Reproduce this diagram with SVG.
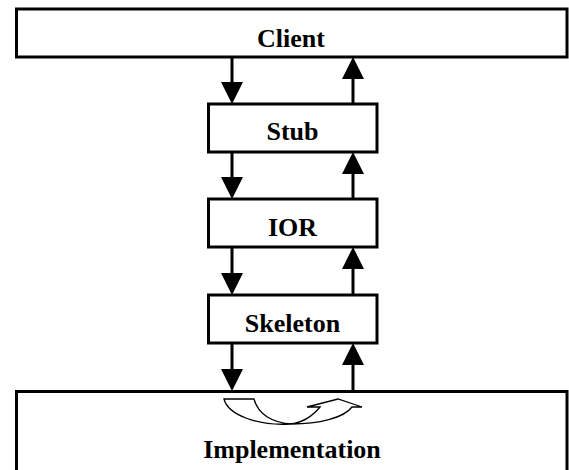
<svg xmlns="http://www.w3.org/2000/svg" width="569" height="470" viewBox="0 0 569 470">
<style>
.box{fill:#fff;stroke:#000;stroke-width:3}
.lbl{font-family:"Liberation Serif","Times New Roman",serif;font-weight:bold;font-size:26px;text-anchor:middle;fill:#000}
.conn{stroke:#000;stroke-width:3;fill:none}
.curve{fill:#fff;stroke:#000;stroke-width:1.3;stroke-linejoin:miter}
</style>
<defs>
<marker id="ah" viewBox="0 0 22 22" refX="12" refY="11" markerWidth="22" markerHeight="22" markerUnits="userSpaceOnUse" orient="auto">
<path d="M0,0 L22,11 L0,22 Z" fill="#000"/>
</marker>
</defs>
<rect width="569" height="470" fill="#fff"/>
<g id="implementation">
<rect class="box" x="16.5" y="391.5" width="550.5" height="90"/>
<path class="curve" d="M224,399 L254,399 C258,414 272,423 292,424 C318,424 344,418 352,407 L362,407 L338,399 L307,407 L320,407 C311,418 300,423 290,424 C258,426 228,415 224,399 Z"/>
<text class="lbl" x="292" y="458">Implementation</text>
</g>
<g id="client">
<rect class="box" x="16.5" y="9" width="550.5" height="48"/>
<text class="lbl" x="291" y="47">Client</text>
</g>
<g id="stub">
<rect class="box" x="208.5" y="104" width="168.5" height="48"/>
<text class="lbl" x="292.5" y="140">Stub</text>
</g>
<g id="ior">
<rect class="box" x="208.5" y="199" width="168.5" height="48"/>
<text class="lbl" x="292.5" y="236">IOR</text>
</g>
<g id="skeleton">
<rect class="box" x="208.5" y="295" width="168.5" height="48"/>
<text class="lbl" x="292.5" y="332">Skeleton</text>
</g>
<g id="connectors">
<line class="conn" x1="232" y1="57" x2="232" y2="94" marker-end="url(#ah)"/>
<line class="conn" x1="232" y1="152" x2="232" y2="189" marker-end="url(#ah)"/>
<line class="conn" x1="232" y1="247" x2="232" y2="285" marker-end="url(#ah)"/>
<line class="conn" x1="232" y1="343" x2="232" y2="381" marker-end="url(#ah)"/>
<line class="conn" x1="353" y1="104" x2="353" y2="67" marker-end="url(#ah)"/>
<line class="conn" x1="353" y1="199" x2="353" y2="162" marker-end="url(#ah)"/>
<line class="conn" x1="353" y1="295" x2="353" y2="257" marker-end="url(#ah)"/>
<line class="conn" x1="353" y1="390" x2="353" y2="353" marker-end="url(#ah)"/>
</g>
</svg>
